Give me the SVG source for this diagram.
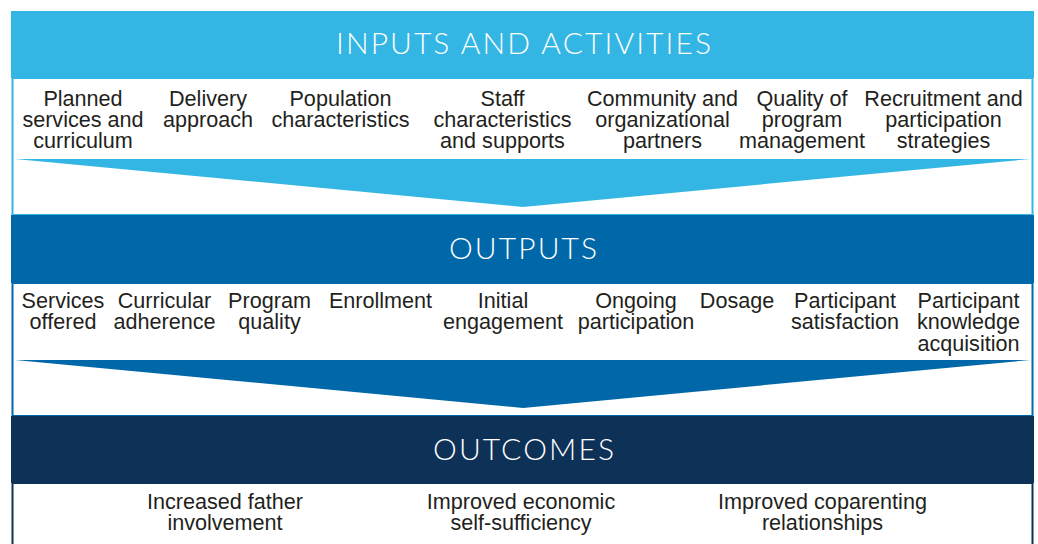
<svg xmlns="http://www.w3.org/2000/svg" width="1038" height="544" viewBox="0 0 1038 544">
<style>
.hdr{font-family:Lato,"Open Sans",sans-serif;font-weight:300;font-size:30px;fill:#ffffff;text-anchor:middle}
.itm{font-family:"Liberation Sans",Arial,sans-serif;font-size:21.6px;fill:#231F20;text-anchor:middle}
.c1{fill:#33B6E3}
.c2{fill:#0067A9}
.c3{fill:#0E3158}
</style>
<rect width="1038" height="544" fill="#ffffff"/>
<g id="inputs">
  <rect x="12.5" y="78" width="1020" height="137" fill="#ffffff" stroke="#33B6E3" stroke-width="2"/>
  <rect class="c1" x="11" y="11" width="1023" height="67"/>
  <text class="hdr" x="523.5" y="54" textLength="375" lengthAdjust="spacing">INPUTS AND ACTIVITIES</text>
  <text class="itm"><tspan x="83" y="105.5">Planned</tspan><tspan x="83" y="126.5">services and</tspan><tspan x="83" y="147.5">curriculum</tspan></text>
  <text class="itm"><tspan x="208" y="105.5">Delivery</tspan><tspan x="208" y="126.5">approach</tspan></text>
  <text class="itm"><tspan x="340.5" y="105.5">Population</tspan><tspan x="340.5" y="126.5">characteristics</tspan></text>
  <text class="itm"><tspan x="502.5" y="105.5">Staff</tspan><tspan x="502.5" y="126.5">characteristics</tspan><tspan x="502.5" y="147.5">and supports</tspan></text>
  <text class="itm"><tspan x="662.5" y="105.5">Community and</tspan><tspan x="662.5" y="126.5">organizational</tspan><tspan x="662.5" y="147.5">partners</tspan></text>
  <text class="itm"><tspan x="802" y="105.5">Quality of</tspan><tspan x="802" y="126.5">program</tspan><tspan x="802" y="147.5">management</tspan></text>
  <text class="itm"><tspan x="943.5" y="105.5">Recruitment and</tspan><tspan x="943.5" y="126.5">participation</tspan><tspan x="943.5" y="147.5">strategies</tspan></text>
</g>
<g id="outputs">
  <rect x="12.5" y="283" width="1020" height="133" fill="#ffffff" stroke="#0067A9" stroke-width="2"/>
  <rect class="c2" x="11" y="215" width="1023" height="68"/>
  <text class="hdr" x="523" y="258.5" textLength="148" lengthAdjust="spacing">OUTPUTS</text>
  <text class="itm"><tspan x="63" y="307.5">Services</tspan><tspan x="63" y="329">offered</tspan></text>
  <text class="itm"><tspan x="164.5" y="307.5">Curricular</tspan><tspan x="164.5" y="329">adherence</tspan></text>
  <text class="itm"><tspan x="269.5" y="307.5">Program</tspan><tspan x="269.5" y="329">quality</tspan></text>
  <text class="itm"><tspan x="380.5" y="307.5">Enrollment</tspan></text>
  <text class="itm"><tspan x="503" y="307.5">Initial</tspan><tspan x="503" y="329">engagement</tspan></text>
  <text class="itm"><tspan x="636" y="307.5">Ongoing</tspan><tspan x="636" y="329">participation</tspan></text>
  <text class="itm"><tspan x="737" y="307.5">Dosage</tspan></text>
  <text class="itm"><tspan x="845" y="307.5">Participant</tspan><tspan x="845" y="329">satisfaction</tspan></text>
  <text class="itm"><tspan x="968.5" y="307.5">Participant</tspan><tspan x="968.5" y="329">knowledge</tspan><tspan x="968.5" y="351">acquisition</tspan></text>
</g>
<g id="outcomes">
  <rect x="12.5" y="483" width="1020" height="70" fill="#ffffff" stroke="#0E3158" stroke-width="2"/>
  <rect class="c3" x="11" y="416" width="1023" height="67"/>
  <text class="hdr" x="523.5" y="459.5" textLength="181" lengthAdjust="spacing">OUTCOMES</text>
  <text class="itm"><tspan x="225" y="509">Increased father</tspan><tspan x="225" y="530">involvement</tspan></text>
  <text class="itm"><tspan x="521" y="509">Improved economic</tspan><tspan x="521" y="530">self-sufficiency</tspan></text>
  <text class="itm"><tspan x="822.5" y="509">Improved coparenting</tspan><tspan x="822.5" y="530">relationships</tspan></text>
</g>
<g id="connectors">
  <polygon class="c1" points="15,159 1030,159 523,207"/>
  <polygon class="c2" points="15,360 1030,360 523,408"/>
</g>
</svg>
